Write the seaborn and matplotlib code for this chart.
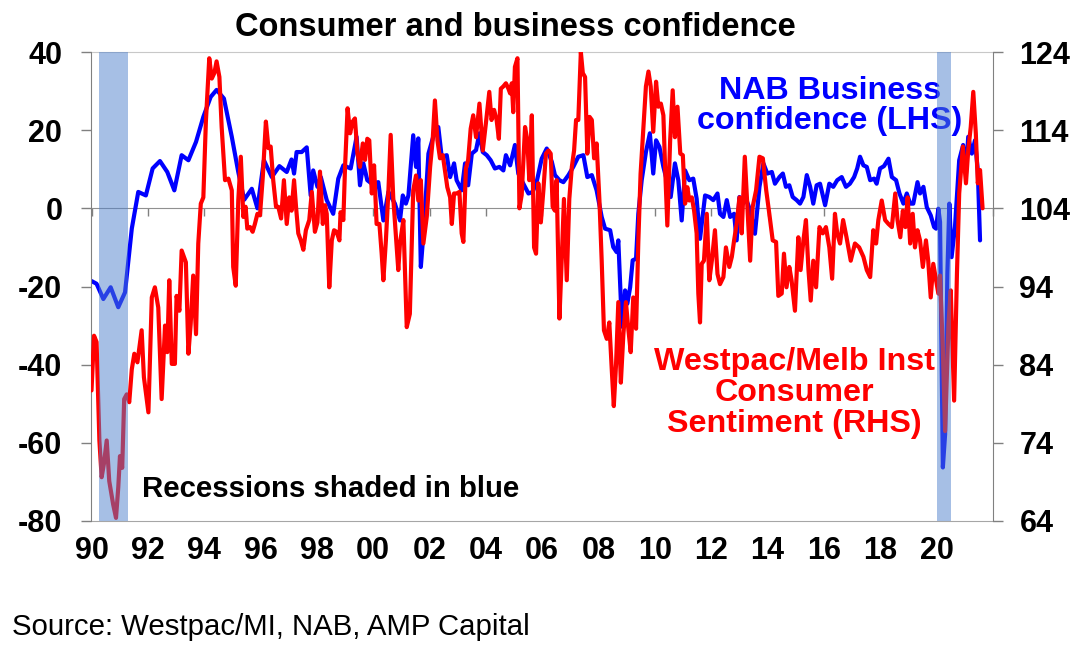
import matplotlib
matplotlib.use("Agg")
import matplotlib.pyplot as plt
import seaborn as sns

# NAB business confidence (LHS), decimal years
nab_dates = [1990.0, 1990.18, 1990.42, 1990.68, 1990.95, 1991.19, 1991.43, 1991.66, 1991.93,
             1992.17, 1992.43, 1992.69, 1992.94, 1993.2, 1993.44, 1993.71, 1993.97, 1994.23,
             1994.44, 1994.7, 1994.98, 1995.21, 1995.42, 1995.69, 1995.89, 1996.12, 1996.4,
             1996.67, 1996.93, 1997.1, 1997.19, 1997.28, 1997.46, 1997.64, 1997.78, 1997.87,
             1998.02, 1998.14, 1998.35, 1998.58, 1998.76, 1998.94, 1999.2, 1999.41, 1999.53,
             1999.65, 1999.79, 1999.95, 2000.18, 2000.36, 2000.54, 2000.77, 2000.95, 2001.05,
             2001.16, 2001.25, 2001.42, 2001.52, 2001.6, 2001.69, 2001.8, 2001.96, 2002.13,
             2002.31, 2002.43, 2002.61, 2002.73, 2002.87, 2002.96, 2003.14, 2003.26, 2003.37,
             2003.5, 2003.65, 2003.77, 2003.89, 2004.03, 2004.17, 2004.32, 2004.48, 2004.62,
             2004.71, 2004.86, 2005.03, 2005.15, 2005.33, 2005.51, 2005.66, 2005.8, 2005.98,
             2006.16, 2006.34, 2006.45, 2006.61, 2006.75, 2006.93, 2007.1, 2007.28, 2007.46,
             2007.6, 2007.76, 2007.93, 2008.11, 2008.23, 2008.41, 2008.52, 2008.64, 2008.7,
             2008.79, 2008.86, 2008.94, 2009.02, 2009.12, 2009.21, 2009.33, 2009.41, 2009.53,
             2009.68, 2009.82, 2009.94, 2010.04, 2010.16, 2010.3, 2010.42, 2010.56, 2010.71,
             2010.83, 2010.95, 2011.07, 2011.22, 2011.36, 2011.48, 2011.6, 2011.78, 2011.93,
             2012.07, 2012.22, 2012.31, 2012.43, 2012.55, 2012.67, 2012.81, 2012.9, 2013.0,
             2013.12, 2013.23, 2013.38, 2013.55, 2013.71, 2013.85, 2013.99, 2014.15, 2014.26,
             2014.42, 2014.54, 2014.65, 2014.77, 2014.89, 2015.03, 2015.15, 2015.27, 2015.39,
             2015.51, 2015.62, 2015.74, 2015.86, 2016.04, 2016.19, 2016.33, 2016.47, 2016.63,
             2016.78, 2016.92, 2017.07, 2017.18, 2017.28, 2017.4, 2017.52, 2017.64, 2017.78,
             2017.87, 2017.99, 2018.13, 2018.29, 2018.41, 2018.56, 2018.68, 2018.82, 2018.94,
             2019.06, 2019.17, 2019.32, 2019.41, 2019.53, 2019.65, 2019.79, 2019.91, 2019.98,
             2020.06, 2020.12, 2020.22, 2020.3, 2020.38, 2020.45, 2020.53, 2020.65, 2020.8,
             2020.94, 2021.04, 2021.12, 2021.25, 2021.36, 2021.46, 2021.54]
nab_values = [-18.6, -19.3, -23.2, -20.2, -25.3, -21.5, -5.2, 4.2, 3.3,
              10.2, 12.1, 9.3, 4.6, 13.6, 12.3, 17.0, 23.4, 28.5,
              30.3, 28.1, 18.3, 9.3, 2.2, 5.0, 0.0, 12.3, 8.0,
              10.8, 9.3, 12.5, 8.9, 14.4, 14.4, 15.6, 3.3, 9.7,
              5.5, 8.0, 2.1, -1.4, 7.6, 11.0, 10.2, 18.3, 5.9,
              11.5, 7.2, 6.3, 6.7, -3.1, 4.2, 1.2, -3.1, 3.3,
              1.2, 3.3, 18.7, 10.6, 17.9, -15.0, -4.8, 14.0, 18.3,
              20.8, 13.2, 13.6, 8.0, 11.5, 7.2, 4.6, 11.5, 5.9,
              14.0, 14.9, 19.2, 14.4, 13.6, 12.3, 10.2, 10.6, 9.7,
              13.6, 11.0, 16.2, 8.9, 6.3, 3.8, 4.2, 6.7, 12.7,
              15.3, 11.9, 8.5, 7.2, 6.7, 8.5, 10.6, 13.2, 13.6,
              8.0, 8.5, 4.6, -2.2, -5.2, -5.6, -9.9, -11.2, -8.2,
              -23.6, -30.4, -21.0, -24.4, -20.2, -13.3, -12.9, -1.4, 7.2,
              14.4, 19.2, 8.9, 17.4, 15.7, 10.6, 7.2, 2.9, 11.5,
              7.2, -3.1, 9.7, 7.2, 7.6, 2.5, -7.8, 3.3, 2.9,
              2.1, 3.8, -1.4, -2.2, 2.1, -2.2, -1.4, -8.2, 2.9,
              1.2, 2.5, -0.5, -6.5, 5.5, 11.5, 8.9, 9.3, 6.3,
              8.0, 8.9, 5.5, 5.9, 2.9, 2.1, 1.2, 2.9, 8.5,
              5.5, 1.2, 5.9, 6.3, 0.8, 6.3, 5.5, 7.2, 8.0,
              5.5, 6.3, 8.0, 10.2, 13.2, 11.0, 10.6, 7.2, 7.6,
              6.3, 10.2, 10.8, 12.7, 8.0, 7.2, 3.8, 1.2, 3.8,
              1.2, 1.2, 6.7, 3.8, 5.5, 0.3, -1.8, -4.8, -5.2,
              -0.1, -3.5, -66.3, -57.8, -16.7, 1.2, -12.5, -4.8, 12.3,
              16.2, 8.9, 18.3, 14.0, 17.4, 9.7, -8.2]

# Westpac/Melbourne Institute consumer sentiment (RHS), decimal years
wmi_dates = [1990.0, 1990.09, 1990.18, 1990.28, 1990.36, 1990.44, 1990.54, 1990.63, 1990.77,
             1990.87, 1990.95, 1991.01, 1991.09, 1991.16, 1991.25, 1991.34, 1991.43, 1991.52,
             1991.63, 1991.78, 1991.86, 1992.02, 1992.14, 1992.25, 1992.37, 1992.49, 1992.61,
             1992.69, 1992.76, 1992.85, 1992.96, 1993.02, 1993.12, 1993.2, 1993.28, 1993.35,
             1993.44, 1993.52, 1993.61, 1993.71, 1993.79, 1993.88, 1993.97, 1994.06, 1994.18,
             1994.27, 1994.36, 1994.44, 1994.54, 1994.62, 1994.74, 1994.86, 1994.98, 1995.03,
             1995.12, 1995.21, 1995.3, 1995.39, 1995.47, 1995.53, 1995.63, 1995.72, 1995.8,
             1995.89, 1995.98, 1996.08, 1996.19, 1996.28, 1996.36, 1996.45, 1996.55, 1996.63,
             1996.73, 1996.83, 1996.93, 1997.02, 1997.1, 1997.19, 1997.26, 1997.34, 1997.43,
             1997.52, 1997.61, 1997.73, 1997.82, 1997.93, 1998.02, 1998.11, 1998.21, 1998.29,
             1998.35, 1998.44, 1998.53, 1998.61, 1998.7, 1998.8, 1998.84, 1998.94, 1999.0,
             1999.09, 1999.18, 1999.27, 1999.35, 1999.44, 1999.53, 1999.63, 1999.71, 1999.79,
             1999.86, 1999.95, 2000.03, 2000.12, 2000.22, 2000.3, 2000.36, 2000.45, 2000.54,
             2000.62, 2000.71, 2000.81, 2000.89, 2000.95, 2001.07, 2001.19, 2001.3, 2001.42,
             2001.52, 2001.6, 2001.69, 2001.78, 2001.9, 2002.02, 2002.11, 2002.19, 2002.28,
             2002.37, 2002.47, 2002.55, 2002.63, 2002.73, 2002.79, 2002.87, 2002.96, 2003.06,
             2003.14, 2003.2, 2003.29, 2003.37, 2003.46, 2003.55, 2003.65, 2003.77, 2003.89,
             2004.0, 2004.12, 2004.2, 2004.29, 2004.38, 2004.46, 2004.53, 2004.62, 2004.71,
             2004.8, 2004.86, 2004.92, 2004.97, 2005.03, 2005.12, 2005.19, 2005.27, 2005.39,
             2005.47, 2005.54, 2005.63, 2005.71, 2005.78, 2005.86, 2005.95, 2006.04, 2006.13,
             2006.22, 2006.3, 2006.37, 2006.45, 2006.51, 2006.61, 2006.69, 2006.77, 2006.87,
             2006.96, 2007.05, 2007.13, 2007.2, 2007.28, 2007.37, 2007.44, 2007.52, 2007.6,
             2007.68, 2007.76, 2007.84, 2007.93, 2008.03, 2008.11, 2008.19, 2008.29, 2008.38,
             2008.47, 2008.54, 2008.62, 2008.7, 2008.79, 2008.88, 2008.97, 2009.06, 2009.14,
             2009.23, 2009.33, 2009.41, 2009.49, 2009.59, 2009.68, 2009.77, 2009.85, 2009.94,
             2010.04, 2010.12, 2010.21, 2010.3, 2010.36, 2010.44, 2010.54, 2010.63, 2010.71,
             2010.8, 2010.9, 2010.99, 2011.07, 2011.15, 2011.22, 2011.31, 2011.39, 2011.48,
             2011.54, 2011.6, 2011.66, 2011.74, 2011.84, 2011.93, 2012.02, 2012.13, 2012.22,
             2012.31, 2012.43, 2012.52, 2012.64, 2012.73, 2012.81, 2012.9, 2013.0, 2013.08,
             2013.19, 2013.28, 2013.38, 2013.47, 2013.59, 2013.71, 2013.83, 2013.95, 2014.06,
             2014.18, 2014.3, 2014.38, 2014.5, 2014.58, 2014.67, 2014.77, 2014.85, 2014.97,
             2015.09, 2015.17, 2015.27, 2015.36, 2015.45, 2015.53, 2015.62, 2015.72, 2015.84,
             2015.96, 2016.07, 2016.19, 2016.29, 2016.39, 2016.47, 2016.57, 2016.68, 2016.8,
             2016.95, 2017.1, 2017.25, 2017.4, 2017.52, 2017.64, 2017.75, 2017.85, 2017.93,
             2018.05, 2018.17, 2018.29, 2018.41, 2018.53, 2018.61, 2018.71, 2018.8, 2018.89,
             2018.97, 2019.06, 2019.15, 2019.23, 2019.32, 2019.41, 2019.51, 2019.62, 2019.7,
             2019.79, 2019.88, 2019.98, 2020.06, 2020.12, 2020.22, 2020.3, 2020.42, 2020.5,
             2020.62, 2020.72, 2020.8, 2020.93, 2021.04, 2021.12, 2021.21, 2021.3, 2021.39,
             2021.46, 2021.54, 2021.63]
wmi_values = [80.7, 87.7, 86.9, 74.3, 69.6, 71.3, 74.3, 69.1, 66.1,
              64.4, 68.3, 72.3, 70.8, 79.6, 80.2, 79.2, 83.4, 85.4,
              84.3, 88.4, 82.4, 77.9, 92.6, 93.9, 91.3, 79.6, 89.0,
              85.6, 94.8, 84.1, 84.1, 92.8, 90.9, 98.6, 97.8, 97.1,
              85.4, 89.2, 95.4, 87.9, 99.5, 104.6, 105.4, 115.1, 123.2,
              120.6, 121.3, 122.8, 120.8, 114.4, 107.6, 107.8, 106.3, 96.5,
              94.1, 105.0, 110.6, 102.9, 104.2, 101.4, 101.6, 101.0, 102.0,
              103.3, 103.1, 108.0, 115.1, 111.7, 111.9, 107.6, 104.2, 104.2,
              102.7, 107.6, 102.0, 105.4, 103.7, 107.6, 104.2, 100.8, 99.9,
              98.7, 101.2, 102.5, 106.1, 101.0, 102.2, 108.7, 102.0, 104.4,
              103.3, 93.9, 99.9, 101.2, 101.0, 99.9, 103.5, 102.5, 109.3,
              116.8, 113.6, 115.1, 115.5, 111.0, 109.3, 112.3, 110.2, 112.9,
              112.7, 105.9, 109.5, 102.0, 102.0, 98.2, 94.8, 99.9, 106.3,
              113.4, 105.4, 100.3, 96.1, 99.5, 102.5, 88.8, 90.5, 106.3,
              108.2, 105.0, 107.6, 99.5, 102.9, 109.3, 112.7, 117.8, 112.7,
              110.4, 110.8, 108.7, 106.7, 105.4, 102.0, 105.9, 105.9, 106.1,
              100.8, 99.7, 109.1, 110.2, 114.2, 115.9, 113.1, 117.4, 111.4,
              114.9, 118.9, 115.3, 116.6, 115.3, 112.9, 119.3, 119.6, 120.0,
              119.3, 118.7, 120.0, 116.3, 122.1, 123.2, 104.0, 105.7, 114.4,
              112.7, 107.6, 115.9, 99.0, 98.2, 107.2, 102.2, 106.3, 111.0,
              111.4, 111.0, 104.2, 103.7, 107.6, 89.9, 97.3, 105.2, 94.8,
              105.2, 109.3, 111.4, 115.3, 115.3, 124.0, 121.3, 120.8, 111.0,
              115.7, 115.3, 110.4, 112.3, 105.0, 97.3, 88.4, 87.3, 89.4,
              83.2, 78.7, 84.1, 92.0, 81.7, 87.9, 92.0, 88.4, 85.6,
              92.6, 88.6, 99.7, 108.4, 114.2, 119.6, 121.5, 119.6, 113.8,
              120.2, 117.0, 117.4, 115.9, 109.3, 101.8, 112.7, 119.1, 113.1,
              117.0, 111.0, 110.8, 104.6, 106.7, 105.0, 105.4, 103.7, 100.8,
              93.1, 89.4, 96.9, 97.3, 103.3, 94.8, 97.3, 101.2, 95.6,
              94.3, 95.2, 99.0, 96.5, 97.8, 99.9, 102.0, 105.4, 100.8,
              110.6, 104.2, 97.3, 104.2, 106.3, 110.6, 110.4, 106.3, 103.3,
              99.9, 99.7, 92.8, 93.1, 98.2, 93.9, 96.5, 94.8, 90.9,
              100.3, 96.1, 99.9, 102.5, 96.1, 92.2, 97.3, 93.9, 101.6,
              100.8, 101.6, 99.0, 95.0, 103.3, 100.8, 99.5, 102.5, 100.3,
              97.3, 99.5, 99.0, 97.8, 96.1, 95.2, 101.2, 99.5, 102.5,
              105.0, 102.5, 102.0, 101.6, 105.9, 102.5, 100.3, 103.7, 101.6,
              105.4, 99.5, 103.3, 99.0, 101.2, 99.9, 96.5, 99.9, 97.3,
              92.6, 96.9, 94.8, 93.1, 95.4, 85.8, 75.5, 89.2, 93.5,
              79.4, 95.6, 105.9, 111.9, 107.2, 111.4, 114.4, 118.9, 113.6,
              107.2, 108.9, 104.0]

recessions = [(1990.25, 1991.3), (2020.0, 2020.5)]
year_ticks = list(range(1990, 2021, 2))
year_labels = [f"{y % 100:02d}" for y in year_ticks]

W, H = 1079, 656
sns.set_style("white")
plt.rcParams['font.family'] = ['Liberation Sans', 'DejaVu Sans']
plt.rcParams['font.weight'] = 'bold'
plt.rcParams['axes.unicode_minus'] = False
plt.rcParams['text.color'] = 'black'
plt.rcParams['xtick.labelcolor'] = 'black'
plt.rcParams['ytick.labelcolor'] = 'black'

fig = plt.figure(figsize=(W / 100, H / 100), dpi=100)
ax = fig.add_axes([91.5 / W, 135 / H, (993 - 91.5) / W, (521 - 52) / H])
ax2 = ax.twinx()

sns.lineplot(x=nab_dates, y=nab_values, ax=ax, color='#0000ff', linewidth=3)
sns.lineplot(x=wmi_dates, y=wmi_values, ax=ax2, color='#ff0000', linewidth=3)

for start, end in recessions:
    ax2.axvspan(start, end, color=(79 / 255, 129 / 255, 204 / 255), alpha=0.5, lw=0, zorder=5)

ax.set_xlim(1990, 2022)
ax.set_ylim(-80, 40)
ax2.set_ylim(64, 124)
ax.set_yticks(range(-80, 41, 20))
ax2.set_yticks(range(64, 125, 10))
ax.set_xticks(year_ticks)
ax.set_xticklabels(year_labels)
ax.set_xlabel('')
ax.set_ylabel('')
ax2.set_ylabel('')

ax.tick_params(axis='y', direction='out', length=7, width=1, color='#808080',
               labelcolor='black', pad=14, labelsize=22)
ax2.tick_params(axis='y', direction='out', length=7, width=1, color='#808080',
                labelcolor='black', pad=12, labelsize=22)
ax.tick_params(axis='x', length=0, pad=11, labelsize=22, labelcolor='black')

ax.spines['top'].set_color('#c8c8c8')
ax.spines['bottom'].set_color('#a6a6a6')
ax.spines['left'].set_color('#808080')
ax.spines['right'].set_visible(False)
for side in ['top', 'bottom', 'left']:
    ax2.spines[side].set_visible(False)
ax2.spines['right'].set_color('#808080')

# zero line with the year tick marks
zero = ax.secondary_xaxis(2 / 3)
zero.set_alignment('bottom')
zero.set_xticks(list(range(1990, 2023, 2)))
zero.tick_params(length=6, width=1, color='#808080', labelbottom=False, labeltop=False)
zero.spines['bottom'].set_color('#909090')

tf = fig.transFigure
ax2.text(515 / W, 1 - 27 / H, 'Consumer and business confidence', transform=tf,
         ha='center', va='center', fontsize=23.5, color='black', zorder=4)
ax2.text(830 / W, 1 - 106 / H, 'NAB Business\nconfidence (LHS)', transform=tf, color='#0000ff',
         ha='center', va='center', fontsize=23.2, linespacing=1.0, zorder=4)
ax2.text(794 / W, 1 - 393 / H, 'Westpac/Melb Inst\nConsumer\nSentiment (RHS)', transform=tf,
         color='#ff0000', ha='center', va='center', fontsize=23.2, linespacing=1.05, zorder=4)
ax2.text(142 / W, 1 - 489 / H, 'Recessions shaded in blue', transform=tf,
         ha='left', va='center', fontsize=21.2, color='black', zorder=4)
fig.text(12 / W, 1 - 627 / H, 'Source: Westpac/MI, NAB, AMP Capital',
         ha='left', va='center', fontsize=21.2, fontweight='normal', color='black')

fig.savefig('out.png', dpi=100)
